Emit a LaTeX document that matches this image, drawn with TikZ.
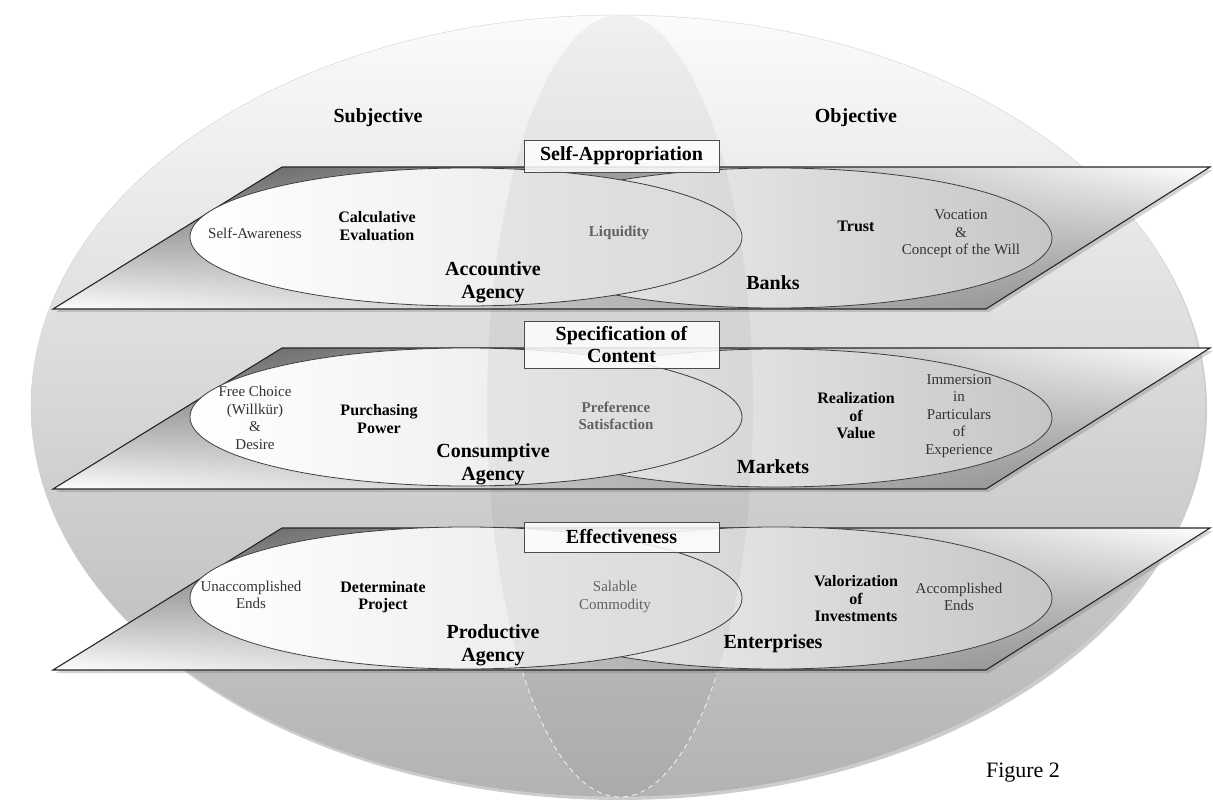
\documentclass[tikz,border=0pt]{standalone}
\usepackage{fontspec}
\setmainfont{Liberation Serif}
\usetikzlibrary{shadings,shadows}

\tikzset{
  planefill/.style={draw=black!85, line width=1.1pt, upper left=black!70, upper right=white,
    lower left=white, lower right=black!50,
    drop shadow={opacity=0.35, shadow xshift=3pt, shadow yshift=-3pt}},
  leftell/.style={draw=black!75, line width=0.8pt, left color=white, right color=gray!22},
  rightell/.style={draw=black!75, line width=0.8pt, left color=gray!6, right color=gray!45},
  headbox/.style={draw=black!70, fill=white, fill opacity=0.85, text opacity=1, line width=0.8pt,
    minimum width=195pt, align=center, inner sep=2pt, font=\bfseries\fontsize{20}{22}\selectfont},
  txt/.style={inner sep=0pt, align=center, text=black!80, font=\fontsize{15}{17.5}\selectfont},
  dimtxt/.style={txt, text=black!62},
  keytxt/.style={inner sep=0pt, align=center, font=\bfseries\fontsize{16}{17.5}\selectfont},
  agentname/.style={inner sep=0pt, align=center, font=\bfseries\fontsize{20}{23}\selectfont},
}

\begin{document}
\begin{tikzpicture}[x=1pt, y=-1pt]
        \useasboundingbox (0,0) rectangle (1213,800);
        \coordinate (o) at (618,406);
        \coordinate (lens) at (620,406);
        % planes
        \coordinate (a1) at (282,167);
        \coordinate (a2) at (1210,167);
        \coordinate (a3) at (986,309);
        \coordinate (a4) at (53,309);
        \coordinate (b1) at (282,348);
        \coordinate (b2) at (1210,348);
        \coordinate (b3) at (986,489);
        \coordinate (b4) at (53,489);
        \coordinate (c1) at (282,528);
        \coordinate (c2) at (1210,528);
        \coordinate (c3) at (986,670);
        \coordinate (c4) at (53,670);
        % ellipse centres
        \coordinate (al) at (466,237);
        \coordinate (ar) at (776,238);
        \coordinate (bl) at (466,417);
        \coordinate (br) at (776,418);
        \coordinate (cl) at (466,598);
        \coordinate (cr) at (776,598);

        \shade[top color=gray!3, middle color=gray!22, bottom color=gray!60, draw=gray!35,
          drop shadow={opacity=0.4, shadow xshift=2pt, shadow yshift=-3pt}]
          (o) ellipse [x radius=587pt, y radius=391pt];

        \shade[planefill] (a1) -- (a2) -- (a3) -- (a4) -- cycle;
        \shade[rightell] (ar) ellipse [x radius=276pt, y radius=70pt];
        \shade[leftell] (al) ellipse [x radius=276pt, y radius=69pt];

        \shade[planefill] (b1) -- (b2) -- (b3) -- (b4) -- cycle;
        \shade[rightell] (br) ellipse [x radius=276pt, y radius=69pt];
        \shade[leftell] (bl) ellipse [x radius=276pt, y radius=69pt];

        \shade[planefill] (c1) -- (c2) -- (c3) -- (c4) -- cycle;
        \shade[rightell] (cr) ellipse [x radius=276pt, y radius=71pt];
        \shade[leftell] (cl) ellipse [x radius=276pt, y radius=71pt];

        % the vertical lens
        \fill[black, fill opacity=0.045] (lens) ellipse [x radius=133pt, y radius=391pt];
        \begin{scope}
          \clip (0,673) rectangle (1213,800);
          \draw[white, opacity=0.85, line width=0.8pt, dash pattern=on 5pt off 4pt]
            (lens) ellipse [x radius=133pt, y radius=391pt];
        \end{scope}

        \node[agentname] (subj) at (378,118) {Subjective};
        \node[agentname] (obj) at (856,118) {Objective};
        \node[headbox, minimum height=32pt] (selfapp) at (621.5,156) {Self-Appropriation};
        \node[headbox, minimum height=47pt] (spec) at (621.5,344.5) {Specification of\\Content};
        \node[headbox, minimum height=30pt] (effect) at (621.5,537) {Effectiveness};

        \node[txt] (selfaw) at (255,233) {Self-Awareness};
        \node[keytxt] (calc) at (377,226) {Calculative\\Evaluation};
        \node[dimtxt, font=\bfseries\fontsize{15}{17.5}\selectfont] (liq) at (619,233) {Liquidity};
        \node[agentname] (accag) at (493,282) {Accountive\\Agency};
        \node[keytxt] (trust) at (856,226) {Trust};
        \node[txt] (vocat) at (961,234) {Vocation\\\&\\Concept of the Will};
        \node[agentname] (banks) at (773,283) {Banks};

        \node[txt] (freech) at (255,418) {Free Choice\\(Willkür)\\\&\\Desire};
        \node[keytxt] (purch) at (379,419) {Purchasing\\Power};
        \node[dimtxt, font=\bfseries\fontsize{15}{17.5}\selectfont] (pref) at (616,416) {Preference\\Satisfaction};
        \node[agentname] (consag) at (493,464) {Consumptive\\Agency};
        \node[keytxt] (realiz) at (856,416) {Realization\\of\\Value};
        \node[txt] (immers) at (959,416) {Immersion\\in\\Particulars\\of\\Experience};
        \node[agentname] (markets) at (773,467) {Markets};

        \node[txt] (unacc) at (251,595) {Unaccomplished\\Ends};
        \node[keytxt] (determ) at (383,597) {Determinate\\Project};
        \node[dimtxt] (salable) at (615,597) {Salable\\Commodity};
        \node[agentname] (prodag) at (493,645) {Productive\\Agency};
        \node[keytxt] (valor) at (856,599) {Valorization\\of\\Investments};
        \node[txt] (accomp) at (959,597) {Accomplished\\Ends};
        \node[agentname] (enterp) at (773,644) {Enterprises};

        \node[inner sep=0pt, font=\fontsize{22}{24}\selectfont] (fig) at (1023,773) {Figure 2};
\end{tikzpicture}
\end{document}
